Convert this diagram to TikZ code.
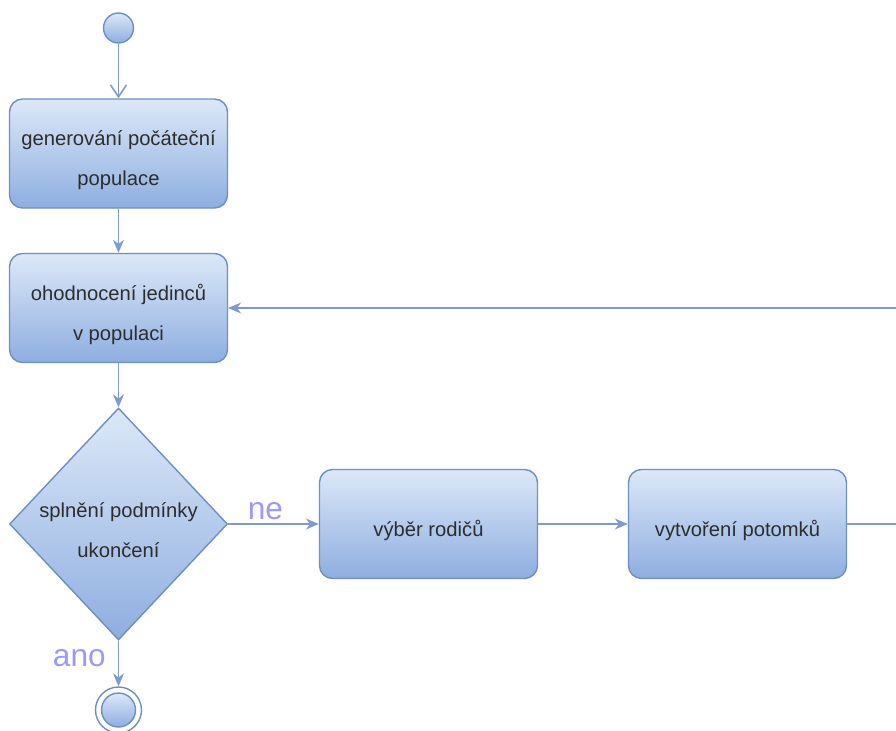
\documentclass[tikz,border=0pt]{standalone}
\usepackage{fontspec}
\setmainfont{Liberation Sans}
\usetikzlibrary{shapes.geometric,positioning,calc,arrows.meta}
\definecolor{boxtop}{RGB}{220,232,248}
\definecolor{boxbot}{RGB}{142,174,224}
\definecolor{boxline}{RGB}{110,143,196}
\definecolor{flowline}{RGB}{125,155,208}
\definecolor{lblue}{RGB}{153,153,255}
\definecolor{txtgrey}{RGB}{45,45,45}
\begin{document}
\begin{tikzpicture}[
    every node/.style={font=\fontsize{11.5pt}{22.7pt}\selectfont,text=txtgrey},
    boxtext/.style={align=center,yshift=-0.13cm,inner sep=0pt},
    activity/.style={draw=boxline,line width=0.8pt,rounded corners=0.26cm,top color=boxtop,bottom color=boxbot,
      minimum width=4.36cm,minimum height=2.18cm,inner sep=0pt,label={[boxtext]center:#1}},
    decision/.style={draw=boxline,line width=0.8pt,diamond,top color=boxtop,bottom color=boxbot,
      minimum width=4.36cm,minimum height=4.64cm,inner sep=0pt,label={[boxtext]center:#1}},
    dot/.style={draw=boxline,line width=0.8pt,circle,top color=boxtop,bottom color=boxbot,inner sep=0pt},
    flow/.style={flowline,line width=0.9pt,-{Stealth[length=2.6mm,width=2.2mm]}},
    guard/.style={font=\fontsize{18pt}{20pt}\selectfont,text=lblue,inner sep=2pt}]
    \useasboundingbox (0,0) rectangle (17.92,-14.6);
    % start and end
    \node[dot,minimum size=0.6cm] (start) at (2.37,-0.56) {};
    \node[draw=boxline,line width=0.8pt,circle,fill=white,minimum size=0.92cm,inner sep=0pt] (stop) at (2.37,-14.2) {};
    \node[dot,minimum size=0.68cm] (stopin) at (stop) {};
    % activities
    \node[activity={generování počáteční\\populace}] (generovani) at (2.37,-3.07) {};
    \node[activity={ohodnocení jedinců\\v populaci}] (hodnoceni) at (2.37,-6.16) {};
    \node[decision={splnění podmínky\\ukončení}] (cond) at (2.37,-10.48) {};
    \node[activity={výběr rodičů}] (vyber) at (8.57,-10.48) {};
    \node[activity={vytvoření potomků}] (potomci) at (14.75,-10.48) {};
    \coordinate (loopA) at (19,-10.48);
    % connectors
    \draw[flowline,line width=0.9pt,-{Straight Barb[length=2.4mm,width=3.2mm]}] (start) -- (generovani);
    \draw[flow] (generovani) -- (hodnoceni);
    \draw[flow] (hodnoceni) -- (cond);
    \draw[flow] (cond.east) -- node[guard,above,pos=0.41] (ne) {ne} (vyber.west);
    \draw[flow] (vyber) -- (potomci);
    \draw[flow] (potomci.east) -- (loopA) |- (hodnoceni.east);
    \draw[flow] (cond.south) -- node[guard,left=0.17cm,pos=0.38] (ano) {ano} (stop.north);
\end{tikzpicture}
\end{document}
